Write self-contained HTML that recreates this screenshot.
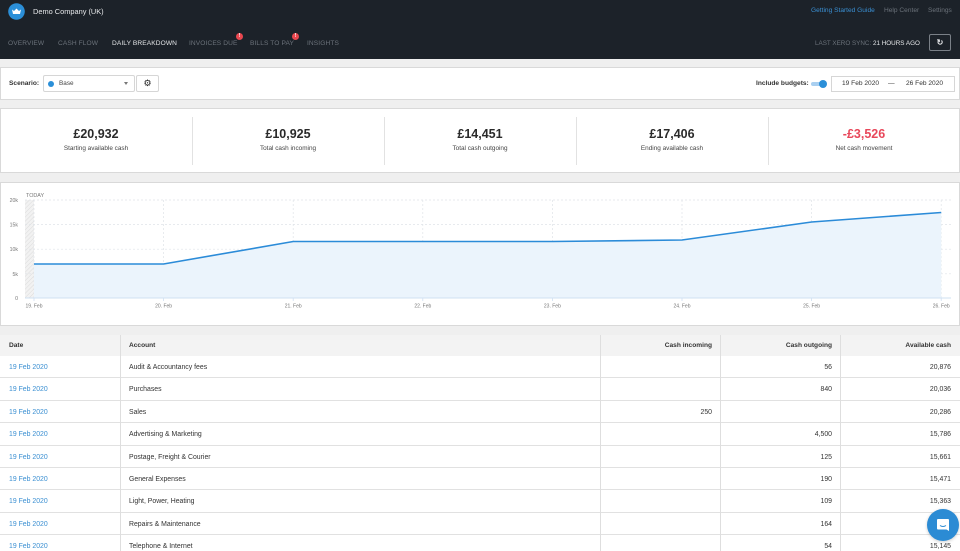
<!DOCTYPE html>
<html><head><meta charset="utf-8"><style>
*{margin:0;padding:0;box-sizing:border-box}
html,body{width:960px;height:551px;overflow:hidden}
body{background:#efefef;font-family:"Liberation Sans",sans-serif;position:relative;color:#333}
.a{position:absolute;white-space:nowrap}
.nav{position:absolute;left:0;top:0;width:960px;height:59px;background:#1c2229}
.ni{position:absolute;top:40px;font-size:6.6px;color:#6b727a;letter-spacing:0.1px}
.badge{position:absolute;width:7px;height:7px;border-radius:50%;background:#e8474f;color:#fff;font-size:5px;font-weight:bold;text-align:center;line-height:7px}
.panel{position:absolute;left:0;width:960px;background:#fff;border:1px solid #d9d9d9}
.sv{position:absolute;width:192px;text-align:center;font-weight:bold;font-size:12.5px;color:#2a2a2a;top:127px}
.sl{position:absolute;width:192px;text-align:center;font-size:6.4px;color:#444;top:145px}
.div{position:absolute;top:117px;width:1px;height:48px;background:#e2e2e2}
.row{position:absolute;left:0;width:960px;height:22.4px;background:#fff;border-bottom:1px solid #e1e1e1;font-size:6.9px;color:#333}
.row div{position:absolute;top:0;height:100%;line-height:23px}
.c1{left:9px;color:#3a8fd2}
.c2{left:129px}
.c3{right:248px;text-align:right}
.c4{right:128px;text-align:right}
.c5{right:9px;text-align:right}
.vl{position:absolute;width:1px;background:#dedede}
</style></head><body>

<div class="nav"></div>
<svg class="a" style="left:8px;top:3px" width="17" height="17" viewBox="0 0 17 17">
<circle cx="8.5" cy="8.5" r="8.3" fill="#2b8fd8"/>
<path d="M4 6.5 L6 8 L8.5 5.5 L11 8 L13 6.5 L12 11 L5 11 Z" fill="#fff"/>
</svg>
<div class="a" style="left:33px;top:7px;font-size:7.4px;color:#e6e8ea">Demo Company (UK)</div>

<div class="ni" style="left:8px">OVERVIEW</div>
<div class="ni" style="left:58px">CASH FLOW</div>
<div class="ni" style="left:112px;color:#e4e6e8">DAILY BREAKDOWN</div>
<div class="ni" style="left:189px">INVOICES DUE</div>
<div class="badge" style="left:236px;top:33px">!</div>
<div class="ni" style="left:250px">BILLS TO PAY</div>
<div class="badge" style="left:292px;top:33px">!</div>
<div class="ni" style="left:307px">INSIGHTS</div>

<div class="a" style="left:811px;top:7px;font-size:6.6px;color:#3a8fd2">Getting Started Guide</div>
<div class="a" style="left:884px;top:7px;font-size:6.6px;color:#6b727a">Help Center</div>
<div class="a" style="left:928px;top:7px;font-size:6.6px;color:#6b727a">Settings</div>
<div class="a" style="left:815px;top:40px;font-size:6.3px;color:#6b727a">LAST XERO SYNC: <span style="color:#e6e8ea">21 HOURS AGO</span></div>
<div class="a" style="left:929px;top:34px;width:22px;height:17px;border:1px solid #7a8087;border-radius:2px;color:#e6e8ea;font-size:8px;text-align:center;line-height:15px;font-weight:bold">&#8635;</div>

<!-- scenario bar -->
<div class="panel" style="top:67px;height:33px"></div>
<div class="a" style="left:9px;top:80px;font-size:6.6px;font-weight:bold;color:#333">Scenario:</div>
<div class="a" style="left:43px;top:75px;width:92px;height:17px;border:1px solid #d6d6d6;border-radius:2px;background:#fff"></div>
<div class="a" style="left:48px;top:81px;width:6px;height:6px;border-radius:50%;background:#2b8fd8"></div>
<div class="a" style="left:59px;top:80px;font-size:6.4px;color:#444">Base</div>
<div class="a" style="left:124px;top:82px;width:0;height:0;border-left:2.5px solid transparent;border-right:2.5px solid transparent;border-top:3px solid #777"></div>
<div class="a" style="left:136px;top:75px;width:23px;height:17px;border:1px solid #d6d6d6;border-radius:2px;background:#fff;text-align:center;font-size:9px;line-height:15px;color:#222">&#9881;</div>

<div class="a" style="left:756px;top:80px;font-size:6.6px;font-weight:bold;color:#333">Include budgets:</div>
<div class="a" style="left:811px;top:82px;width:14px;height:4px;border-radius:2px;background:#a9cff0"></div>
<div class="a" style="left:819px;top:80px;width:8px;height:8px;border-radius:50%;background:#2b8fd8"></div>
<div class="a" style="left:831px;top:76px;width:124px;height:16px;border:1px solid #d6d6d6;background:#fff"></div>
<div class="a" style="left:842px;top:80px;font-size:6.6px;color:#333">19 Feb 2020</div>
<div class="a" style="left:888px;top:80px;font-size:6.6px;color:#333">—</div>
<div class="a" style="left:906px;top:80px;font-size:6.6px;color:#333">26 Feb 2020</div>

<!-- summary -->
<div class="panel" style="top:108px;height:65px"></div>
<div class="div" style="left:192px"></div>
<div class="div" style="left:384px"></div>
<div class="div" style="left:576px"></div>
<div class="div" style="left:768px"></div>
<div class="sv" style="left:0">£20,932</div><div class="sl" style="left:0">Starting available cash</div>
<div class="sv" style="left:192px">£10,925</div><div class="sl" style="left:192px">Total cash incoming</div>
<div class="sv" style="left:384px">£14,451</div><div class="sl" style="left:384px">Total cash outgoing</div>
<div class="sv" style="left:576px">£17,406</div><div class="sl" style="left:576px">Ending available cash</div>
<div class="sv" style="left:768px;color:#e8475a">-£3,526</div><div class="sl" style="left:768px">Net cash movement</div>

<!-- chart -->
<div class="panel" style="top:182px;height:144px"></div>
<svg class="a" style="left:0;top:182px" width="960" height="144" viewBox="0 182 960 144">
<defs>
<pattern id="h" width="3" height="3" patternUnits="userSpaceOnUse" patternTransform="rotate(45)">
<rect width="3" height="3" fill="#f2f2f2"/><line x1="0" y1="0" x2="0" y2="3" stroke="#dcdcdc" stroke-width="1"/>
</pattern>
</defs>
<rect x="25" y="200" width="9" height="98" fill="url(#h)"/>
<g stroke="#dfe3e8" stroke-width="0.7" stroke-dasharray="2,2" fill="none">
<line x1="25" y1="200" x2="951" y2="200"/>
<line x1="25" y1="224.6" x2="951" y2="224.6"/>
<line x1="25" y1="249.2" x2="951" y2="249.2"/>
<line x1="25" y1="273.8" x2="951" y2="273.8"/>
<line x1="34" y1="200" x2="34" y2="298"/>
<line x1="163.6" y1="200" x2="163.6" y2="298"/>
<line x1="293.2" y1="200" x2="293.2" y2="298"/>
<line x1="422.8" y1="200" x2="422.8" y2="298"/>
<line x1="552.4" y1="200" x2="552.4" y2="298"/>
<line x1="682" y1="200" x2="682" y2="298"/>
<line x1="811.6" y1="200" x2="811.6" y2="298"/>
<line x1="941.2" y1="200" x2="941.2" y2="298"/>
</g>
<path d="M34 264 L163.6 264 L293.2 241.5 L422.8 241.5 L552.4 241.5 L682 240 L811.6 222 L941.2 212.5 L941.2 298 L34 298 Z" fill="#ebf4fc"/>
<line x1="25" y1="298" x2="951" y2="298" stroke="#cfe0f2" stroke-width="1"/>
<g stroke="#cfe0f2" stroke-width="0.8">
<line x1="34" y1="298" x2="34" y2="301"/><line x1="163.6" y1="298" x2="163.6" y2="301"/><line x1="293.2" y1="298" x2="293.2" y2="301"/><line x1="422.8" y1="298" x2="422.8" y2="301"/><line x1="552.4" y1="298" x2="552.4" y2="301"/><line x1="682" y1="298" x2="682" y2="301"/><line x1="811.6" y1="298" x2="811.6" y2="301"/><line x1="941.2" y1="298" x2="941.2" y2="301"/>
</g>
<polyline points="34,264 163.6,264 293.2,241.5 422.8,241.5 552.4,241.5 682,240 811.6,222 941.2,212.5" fill="none" stroke="#2b8bd8" stroke-width="1.6"/>
<g font-family="Liberation Sans, sans-serif" font-size="5.2" fill="#777" text-anchor="end">
<text x="18" y="202">20k</text><text x="18" y="226.6">15k</text><text x="18" y="251.2">10k</text><text x="18" y="275.8">5k</text><text x="18" y="300">0</text>
</g>
<text x="26" y="197" font-family="Liberation Sans, sans-serif" font-size="5.4" fill="#777">TODAY</text>
<g font-family="Liberation Sans, sans-serif" font-size="5" fill="#777" text-anchor="middle">
<text x="34" y="307.5">19. Feb</text><text x="163.6" y="307.5">20. Feb</text><text x="293.2" y="307.5">21. Feb</text><text x="422.8" y="307.5">22. Feb</text><text x="552.4" y="307.5">23. Feb</text><text x="682" y="307.5">24. Feb</text><text x="811.6" y="307.5">25. Feb</text><text x="941.2" y="307.5">26. Feb</text>
</g>
</svg>

<!-- table -->
<div class="a" style="left:0;top:335px;width:960px;height:221px;background:#fff;border:1px solid #d9d9d9"></div>
<div class="row" style="top:335px;height:21.5px;background:#f3f3f3;border-bottom:1px solid #d6d6d6;font-weight:bold;color:#333;font-size:6.6px">
<div class="c1" style="color:#333;line-height:21.5px">Date</div><div class="c2" style="line-height:21.5px">Account</div><div class="c3" style="line-height:21.5px">Cash incoming</div><div class="c4" style="line-height:21.5px">Cash outgoing</div><div class="c5" style="line-height:21.5px">Available cash</div></div>
<div class="row" style="top:356px"><div class="c1">19 Feb 2020</div><div class="c2">Audit &amp; Accountancy fees</div><div class="c4">56</div><div class="c5">20,876</div></div>
<div class="row" style="top:378.4px"><div class="c1">19 Feb 2020</div><div class="c2">Purchases</div><div class="c4">840</div><div class="c5">20,036</div></div>
<div class="row" style="top:400.8px"><div class="c1">19 Feb 2020</div><div class="c2">Sales</div><div class="c3">250</div><div class="c5">20,286</div></div>
<div class="row" style="top:423.2px"><div class="c1">19 Feb 2020</div><div class="c2">Advertising &amp; Marketing</div><div class="c4">4,500</div><div class="c5">15,786</div></div>
<div class="row" style="top:445.6px"><div class="c1">19 Feb 2020</div><div class="c2">Postage, Freight &amp; Courier</div><div class="c4">125</div><div class="c5">15,661</div></div>
<div class="row" style="top:468px"><div class="c1">19 Feb 2020</div><div class="c2">General Expenses</div><div class="c4">190</div><div class="c5">15,471</div></div>
<div class="row" style="top:490.4px"><div class="c1">19 Feb 2020</div><div class="c2">Light, Power, Heating</div><div class="c4">109</div><div class="c5">15,363</div></div>
<div class="row" style="top:512.8px"><div class="c1">19 Feb 2020</div><div class="c2">Repairs &amp; Maintenance</div><div class="c4">164</div><div class="c5">15,199</div></div>
<div class="row" style="top:535.2px"><div class="c1">19 Feb 2020</div><div class="c2">Telephone &amp; Internet</div><div class="c4">54</div><div class="c5">15,145</div></div>
<div class="vl" style="left:120px;top:335px;height:216px"></div>
<div class="vl" style="left:600px;top:335px;height:216px"></div>
<div class="vl" style="left:720px;top:335px;height:216px"></div>
<div class="vl" style="left:840px;top:335px;height:216px"></div>

<!-- chat button -->
<div class="a" style="left:927px;top:509px;width:32px;height:32px;border-radius:50%;background:#2b8bd4;box-shadow:0 1px 3px rgba(0,0,0,0.2)"></div>
<svg class="a" style="left:935px;top:517px" width="16" height="16" viewBox="0 0 16 16">
<path d="M3 2 H13 Q14 2 14 3 V14 L11.5 12.5 H3 Q2 12.5 2 11.5 V3 Q2 2 3 2 Z" fill="#fff"/>
<path d="M5 8.5 Q8 10.5 11 8.5" stroke="#2b8bd4" stroke-width="1" fill="none"/>
</svg>
</body></html>
